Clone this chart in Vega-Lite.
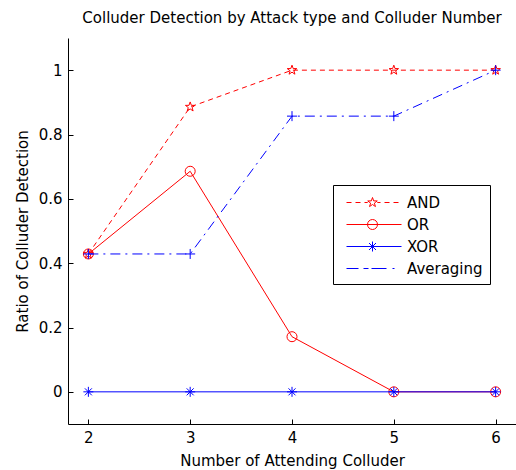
{
  "$schema": "https://vega.github.io/schema/vega-lite/v6.json",
  "autosize": {"type": "none"},
  "padding": {"left": 68, "top": 38, "right": 0, "bottom": 46},
  "width": 448,
  "height": 386,
  "background": "white",
  "title": {
    "text": "Colluder Detection by Attack type and Colluder Number",
    "font": "DejaVu Sans",
    "fontSize": 15,
    "fontWeight": "normal",
    "color": "black",
    "anchor": "middle",
    "frame": "group",
    "baseline": "alphabetic",
    "offset": 0
  },
  "data": {
    "values": [
      {"n": 2, "series": "AND", "ratio": 0.4286},
      {"n": 3, "series": "AND", "ratio": 0.8857},
      {"n": 4, "series": "AND", "ratio": 1},
      {"n": 5, "series": "AND", "ratio": 1},
      {"n": 6, "series": "AND", "ratio": 1},
      {"n": 2, "series": "OR", "ratio": 0.4286},
      {"n": 3, "series": "OR", "ratio": 0.6857},
      {"n": 4, "series": "OR", "ratio": 0.1714},
      {"n": 5, "series": "OR", "ratio": 0},
      {"n": 6, "series": "OR", "ratio": 0},
      {"n": 2, "series": "XOR", "ratio": 0},
      {"n": 3, "series": "XOR", "ratio": 0},
      {"n": 4, "series": "XOR", "ratio": 0},
      {"n": 5, "series": "XOR", "ratio": 0},
      {"n": 6, "series": "XOR", "ratio": 0},
      {"n": 2, "series": "Averaging", "ratio": 0.4286},
      {"n": 3, "series": "Averaging", "ratio": 0.4286},
      {"n": 4, "series": "Averaging", "ratio": 0.8571},
      {"n": 5, "series": "Averaging", "ratio": 0.8571},
      {"n": 6, "series": "Averaging", "ratio": 1}
    ]
  },
  "encoding": {
    "x": {
      "field": "n",
      "type": "quantitative",
      "scale": {"domain": [1.8, 6.2], "nice": false, "zero": false},
      "axis": {
        "title": "Number of Attending Colluder",
        "values": [2, 3, 4, 5, 6],
        "format": "d",
        "titlePadding": 8
      }
    },
    "y": {
      "field": "ratio",
      "type": "quantitative",
      "scale": {"domain": [-0.1, 1.1], "nice": false, "zero": false},
      "axis": {
        "title": "Ratio of Colluder Detection",
        "values": [0, 0.2, 0.4, 0.6, 0.8, 1],
        "format": "~g",
        "titlePadding": 8
      }
    }
  },
  "layer": [
    {
      "transform": [{"filter": "datum.series === 'AND'"}],
      "mark": {"type": "line", "strokeWidth": 1, "color": "#ff0000", "strokeDash": [5, 4]}
    },
    {
      "transform": [{"filter": "datum.series === 'AND'"}],
      "mark": {"type": "point", "filled": false, "strokeWidth": 1, "size": 100, "opacity": 1, "color": "#ff0000",
               "shape": "M0,-1L0.235,-0.324L0.951,-0.309L0.38,0.124L0.588,0.809L0,0.4L-0.588,0.809L-0.38,0.124L-0.951,-0.309L-0.235,-0.324Z"}
    },
    {
      "transform": [{"filter": "datum.series === 'OR'"}],
      "mark": {"type": "line", "strokeWidth": 1, "color": "#ff0000"}
    },
    {
      "transform": [{"filter": "datum.series === 'OR'"}],
      "mark": {"type": "point", "filled": false, "strokeWidth": 1, "size": 100, "opacity": 1, "color": "#ff0000", "shape": "circle"}
    },
    {
      "transform": [{"filter": "datum.series === 'XOR'"}],
      "mark": {"type": "line", "strokeWidth": 1, "color": "#0000ff"}
    },
    {
      "transform": [{"filter": "datum.series === 'XOR'"}],
      "mark": {"type": "point", "filled": false, "strokeWidth": 1, "size": 100, "opacity": 1, "color": "#0000ff",
               "shape": "M-1,0H1M0,-1V1M-0.7,-0.7L0.7,0.7M-0.7,0.7L0.7,-0.7"}
    },
    {
      "transform": [{"filter": "datum.series === 'Averaging'"}],
      "mark": {"type": "line", "strokeWidth": 1, "color": "#0000ff", "strokeDash": [10, 5, 2, 5]}
    },
    {
      "transform": [{"filter": "datum.series === 'Averaging'"}],
      "mark": {"type": "point", "filled": false, "strokeWidth": 1, "size": 100, "opacity": 1, "color": "#0000ff",
               "shape": "M-1,0H1M0,-1V1"}
    },
    {
      "mark": {"type": "point", "filled": false, "strokeWidth": 1, "opacity": 0},
      "encoding": {
        "color": {
          "field": "series",
          "type": "nominal",
          "scale": {"domain": ["AND", "OR", "XOR", "Averaging"], "range": ["#ff0000", "#ff0000", "#0000ff", "#0000ff"]},
          "legend": {
            "orient": "none",
            "legendX": 265,
            "legendY": 147,
            "title": null,
            "padding": 7,
            "strokeColor": "black",
            "fillColor": "white",
            "labelFont": "DejaVu Sans",
            "labelFontSize": 15,
            "labelColor": "black",
            "labelOffset": 46,
            "symbolSize": 400,
            "symbolOpacity": 1,
            "rowPadding": 3,
            "symbolStrokeWidth": 1
          }
        },
        "shape": {
          "field": "series",
          "type": "nominal",
          "scale": {
            "domain": ["AND", "OR", "XOR", "Averaging"],
            "range": [
              "M-0.4,0H0.1M0.5,0H1M1.4,0H1.72M2.68,0H3M3.4,0H3.9M4.3,0H4.8M2.2,-0.5L2.318,-0.162L2.676,-0.155L2.39,0.062L2.494,0.405L2.2,0.2L1.906,0.405L2.01,0.062L1.724,-0.155L2.082,-0.162Z",
              "M-0.4,0H5.1M2.7,0A0.5,0.5 0 1,1 1.7,0A0.5,0.5 0 1,1 2.7,0",
              "M-0.4,0H5.1M2.2,-0.5V0.5M1.85,-0.35L2.55,0.35M1.85,0.35L2.55,-0.35",
              "M-0.4,0H0.8M1.3,0H1.8M2.1,0H3.6M4.2,0H4.4"
            ]
          },
          "legend": {
            "orient": "none",
            "legendX": 265,
            "legendY": 147,
            "title": null,
            "padding": 7,
            "strokeColor": "black",
            "fillColor": "white",
            "labelFont": "DejaVu Sans",
            "labelFontSize": 15,
            "labelColor": "black",
            "labelOffset": 46,
            "symbolSize": 400,
            "symbolOpacity": 1,
            "rowPadding": 3,
            "symbolStrokeWidth": 1
          }
        }
      }
    }
  ],
  "config": {
    "view": {"stroke": null},
    "axis": {
      "grid": false,
      "domainColor": "black",
      "domainWidth": 1,
      "tickColor": "black",
      "tickSize": -5,
      "tickWidth": 1,
      "labelPadding": 11,
      "labelFont": "DejaVu Sans",
      "labelFontSize": 15,
      "labelColor": "black",
      "titleFont": "DejaVu Sans",
      "titleFontSize": 15,
      "titleFontWeight": "normal",
      "titleColor": "black"
    }
  }
}
